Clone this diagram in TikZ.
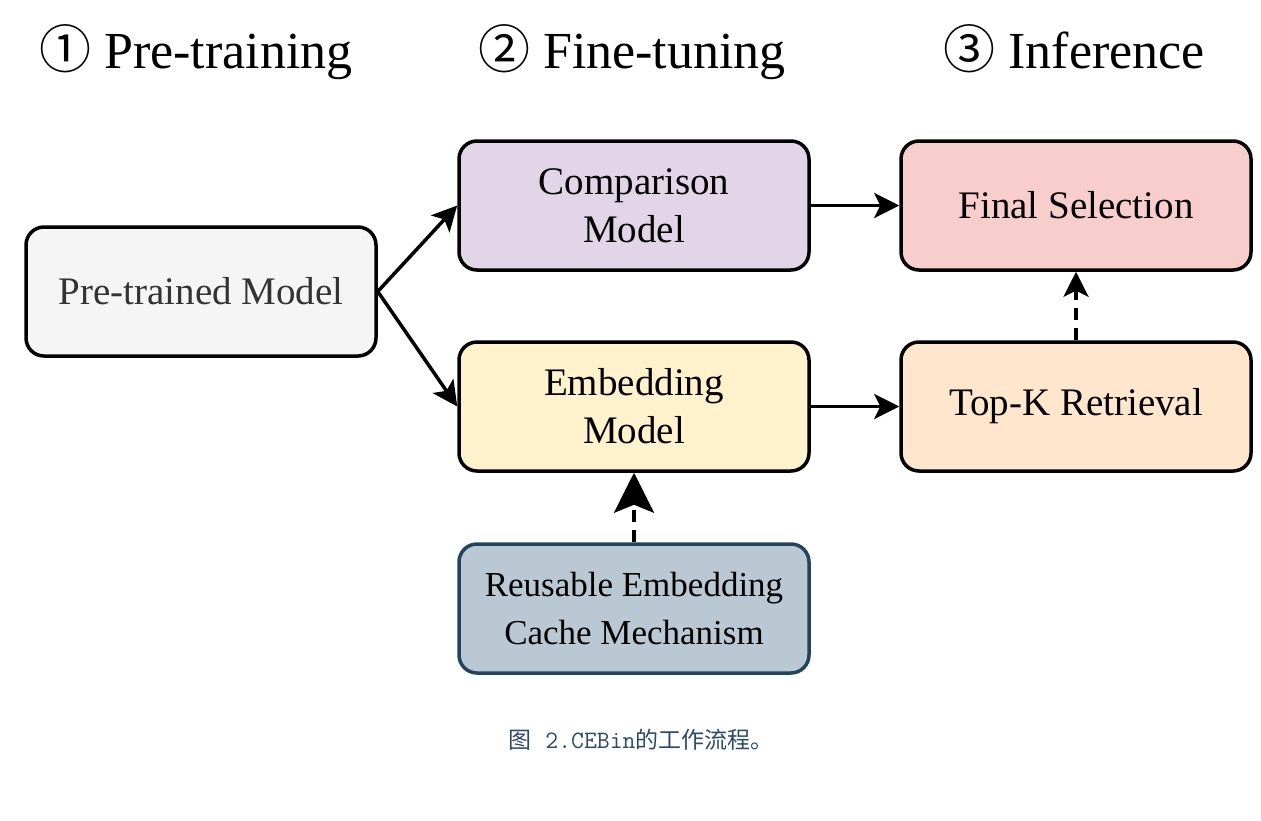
\documentclass[tikz,border=0pt]{standalone}
\usepackage{fontspec}
\setmainfont{Liberation Serif}
\newfontfamily\cjkfont{Noto Sans CJK SC}
\usetikzlibrary{positioning, arrows.meta}
\definecolor{preFill}{HTML}{F5F5F5}
\definecolor{preText}{HTML}{333333}
\definecolor{cmpFill}{HTML}{E1D5E7}
\definecolor{embFill}{HTML}{FFF2CC}
\definecolor{selFill}{HTML}{F8CECC}
\definecolor{topFill}{HTML}{FFE6CC}
\definecolor{cacheFill}{HTML}{BAC8D3}
\definecolor{cacheLine}{HTML}{23445D}
\definecolor{capText}{HTML}{2E4868}
\tikzset{
  stagebox/.style={draw, line width=3.5pt, rounded corners=18pt, minimum width=350pt,
    minimum height=129pt, align=center, font=\fontsize{39}{48}\selectfont},
  heading/.style={anchor=base, font=\fontsize{52}{60}\selectfont},
  wire/.style={-{Stealth[length=25pt, width=25pt, inset=6pt]}, line width=3.5pt},
  dashwire/.style={wire, dash pattern=on 12pt off 8pt}
}
\newcommand{\circnum}[1]{{\cjkfont #1}}

\begin{document}
\begin{tikzpicture}[x=1pt, y=-1pt]
    \useasboundingbox (0,0) rectangle (1261,820);
    % stage titles
    \node[heading] (h1) at (196, 68) {\circnum{①} Pre-training};
    \node[heading] (h2) at (632, 68) {\circnum{②} Fine-tuning};
    \node[heading] (h3) at (1074, 68) {\circnum{③} Inference};
    % boxes
    \node[stagebox, fill=preFill, text=preText] (pre) at (201, 291.5) {Pre-trained Model};
    \node[stagebox, fill=cmpFill] (cmp) at (634, 205.5) {Comparison\\Model};
    \node[stagebox, fill=embFill] (emb) at (634, 406.5) {Embedding\\Model};
    \node[stagebox, fill=selFill] (sel) at (1076, 205.5) {Final Selection};
    \node[stagebox, fill=topFill] (topk) at (1076, 406.5) {Top-K Retrieval};
    \node[stagebox, fill=cacheFill, draw=cacheLine, font=\fontsize{35}{48}\selectfont]
      (cache) at (634, 608.5) {Reusable Embedding\\Cache Mechanism};
    % connectors
    \draw[wire] (pre.east) -- (cmp.west);
    \draw[wire] (pre.east) -- (emb.west);
    \draw[wire] (cmp) -- (sel);
    \draw[wire] (emb) -- (topk);
    \draw[dashwire] (topk) -- (sel);
    \draw[dashwire, -{Stealth[length=40pt, width=40pt, inset=8pt]}] (cache) -- (emb);
    % caption
    \node[anchor=base, text=capText, font=\fontsize{23}{28}\selectfont] (cap) at (641, 748)
      {\cjkfont 图\hspace{14pt}{\ttfamily\fontsize{25}{28}\selectfont 2.CEBin}的工作流程。};
\end{tikzpicture}
\end{document}
